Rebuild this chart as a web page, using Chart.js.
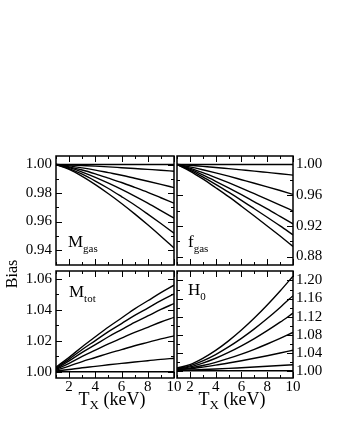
<!DOCTYPE html>
<html><head><meta charset="utf-8">
<script src="https://cdn.jsdelivr.net/npm/chart.js@4.4.1/dist/chart.umd.min.js"></script>
<style>
html,body{margin:0;padding:0;background:#fff;width:349px;height:436px;overflow:hidden;position:relative;}
canvas{position:absolute;}
</style></head><body>
<canvas id="tl" width="180" height="130" style="left:0;top:140px"></canvas>
<canvas id="tr" width="150" height="130" style="left:176px;top:140px"></canvas>
<canvas id="bl" width="184" height="160" style="left:0;top:256px"></canvas>
<canvas id="br" width="150" height="160" style="left:176px;top:256px"></canvas>
<script>
// ---- data ----
const temperatures = [1, 2, 3, 4, 5, 6, 7, 8, 9, 10];
const xTickValues = [2, 4, 6, 8, 10];
const xMinorTicks = [1, 3, 5, 7, 9];

const mgasCurves = [
  [1, 1, 1, 1, 1, 1, 1, 1, 1, 1],
  [1, .9997, .9993, .9989, .9984, .9978, .9972, .9966, .9960, .9953],
  [1, .9991, .9977, .9961, .9943, .9925, .9904, .9883, .9861, .9838],
  [1, .9984, .9962, .9935, .9905, .9874, .9840, .9805, .9767, .9729],
  [1, .9978, .9947, .9910, .9869, .9825, .9778, .9729, .9677, .9624],
  [1, .9972, .9932, .9884, .9832, .9775, .9716, .9652, .9586, .9518],
  [1, .9966, .9917, .9859, .9795, .9727, .9654, .9577, .9497, .9414]
];
const fgasCurves = [
  [1, 1, 1, 1, 1, 1, 1, 1, 1, 1],
  [1, .9989, .9975, .9961, .9945, .9929, .9913, .9896, .9879, .9861],
  [1, .9969, .9931, .9890, .9847, .9801, .9755, .9708, .9660, .9610],
  [1, .9952, .9893, .9829, .9762, .9692, .9619, .9546, .9471, .9394],
  [1, .9938, .9863, .9781, .9695, .9606, .9513, .9420, .9323, .9225],
  [1, .9927, .9838, .9740, .9639, .9533, .9423, .9312, .9199, .9082],
  [1, .9914, .9811, .9697, .9580, .9456, .9329, .9199, .9067, .8931]
];
const mtotCurves = [
  [1, 1, 1, 1, 1, 1, 1, 1, 1, 1],
  [1.0005, 1.0015, 1.0026, 1.0035, 1.0045, 1.0054, 1.0063, 1.0071, 1.0080, 1.0087],
  [1.0010, 1.0037, 1.0066, 1.0092, 1.0119, 1.0143, 1.0168, 1.0190, 1.0212, 1.0232],
  [1.0015, 1.0055, 1.0099, 1.0139, 1.0180, 1.0217, 1.0254, 1.0287, 1.0321, 1.0351],
  [1.0020, 1.0070, 1.0125, 1.0175, 1.0226, 1.0272, 1.0318, 1.0360, 1.0402, 1.0440],
  [1.0025, 1.0082, 1.0144, 1.0201, 1.0259, 1.0311, 1.0364, 1.0411, 1.0459, 1.0502],
  [1.0030, 1.0093, 1.0162, 1.0226, 1.0289, 1.0347, 1.0406, 1.0458, 1.0511, 1.0559]
];
const h0Curves = [
  [1, 1, 1, 1, 1, 1, 1, 1, 1, 1],
  [1.001, 1.0017, 1.0028, 1.0040, 1.0053, 1.0068, 1.0083, 1.0099, 1.0116, 1.0134],
  [1.002, 1.0045, 1.0082, 1.0124, 1.0172, 1.0223, 1.0277, 1.0334, 1.0393, 1.0455],
  [1.003, 1.0060, 1.0116, 1.0187, 1.0273, 1.0369, 1.0476, 1.0593, 1.0717, 1.0850],
  [1.004, 1.0086, 1.0170, 1.0277, 1.0406, 1.0552, 1.0712, 1.0888, 1.1076, 1.1276],
  [1.005, 1.0110, 1.0219, 1.0360, 1.0528, 1.0718, 1.0928, 1.1157, 1.1403, 1.1664],
  [1.006, 1.0135, 1.0274, 1.0451, 1.0663, 1.0903, 1.1168, 1.1457, 1.1767, 1.2097]
];

const mgasTicks = [0.94, 0.96, 0.98, 1.00];
const mgasMinor = [0.95, 0.97, 0.99];
const fgasTicks = [0.88, 0.92, 0.96, 1.00];
const fgasMinor = [0.90, 0.94, 0.98];
const mtotTicks = [1.00, 1.02, 1.04, 1.06];
const mtotMinor = [1.01, 1.03, 1.05];
const h0Ticks = [1.00, 1.04, 1.08, 1.12, 1.16, 1.20];
const h0Minor = [1.02, 1.06, 1.10, 1.14, 1.18];

const FONT = '"Liberation Serif", "Times New Roman", serif';

const framePlugin = {
  id: 'frame',
  afterDatasetsDraw(chart, args, o) {
    const {ctx, chartArea: a} = chart;
    const x = chart.scales.x, y = chart.scales.y;
    ctx.save();
    ctx.strokeStyle = '#000';
    ctx.lineWidth = 1;
    ctx.beginPath();
    const tx = (v, len) => {
      const p = Math.round(x.getPixelForValue(v)) + 0.5;
      ctx.moveTo(p, a.bottom); ctx.lineTo(p, a.bottom - len);
      ctx.moveTo(p, a.top); ctx.lineTo(p, a.top + len);
    };
    const ty = (v, len) => {
      const p = Math.round(y.getPixelForValue(v)) + 0.5;
      ctx.moveTo(a.left, p); ctx.lineTo(a.left + len, p);
      ctx.moveTo(a.right, p); ctx.lineTo(a.right - len, p);
    };
    xTickValues.forEach(v => tx(v, 6));
    xMinorTicks.forEach(v => tx(v, 3));
    o.yMajor.forEach(v => ty(v, 6));
    o.yMinor.forEach(v => ty(v, 3));
    ctx.stroke();
    ctx.lineWidth = 1.5;
    ctx.strokeRect(a.left, a.top, a.right - a.left, a.bottom - a.top);
    // panel label
    ctx.fillStyle = '#000';
    ctx.textBaseline = 'alphabetic';
    ctx.textAlign = 'left';
    ctx.font = '17px ' + FONT;
    const lx = a.left + o.dx;
    const ly = o.fromBottom ? a.bottom - o.dy : a.top + o.dy;
    ctx.fillText(o.main, lx, ly);
    const mw = ctx.measureText(o.main).width + o.gap;
    ctx.font = '11px ' + FONT;
    ctx.fillText(o.sub, lx + mw, ly + 5);
    // axis title
    if (o.title) {
      ctx.font = '18px ' + FONT;
      const wT = ctx.measureText('T').width;
      const wR = ctx.measureText(' (keV)').width;
      ctx.font = '13px ' + FONT;
      const wX = ctx.measureText('X').width;
      const total = wT + wX + wR;
      const cx = (a.left + a.right) / 2 - 3;
      let sx = cx - total / 2;
      const by = a.bottom + 27;
      ctx.font = '18px ' + FONT;
      ctx.fillText('T', sx, by);
      ctx.font = '13px ' + FONT;
      ctx.fillText('X', sx + wT, by + 4);
      ctx.font = '18px ' + FONT;
      ctx.fillText(' (keV)', sx + wT + wX, by);
    }
    // shared y title
    if (o.yTitle) {
      ctx.save();
      ctx.translate(13, a.top + 3);
      ctx.rotate(-Math.PI / 2);
      ctx.font = '16px ' + FONT;
      ctx.textAlign = 'center';
      ctx.textBaseline = 'middle';
      ctx.fillText(o.yTitle, 0, 0);
      ctx.restore();
    }
    ctx.restore();
  }
};

function makePanel(id, curves, cfg) {
  const datasets = curves.map(c => ({
    data: c.map((v, i) => ({x: temperatures[i], y: v})),
    borderColor: '#000',
    borderWidth: 1.4,
    pointRadius: 0,
    fill: false,
    cubicInterpolationMode: 'monotone'
  }));
  new Chart(document.getElementById(id), {
    type: 'line',
    data: {datasets},
    plugins: [framePlugin],
    options: {
      responsive: false,
      animation: false,
      devicePixelRatio: 1,
      layout: {padding: cfg.padding},
      plugins: {
        legend: {display: false},
        tooltip: {enabled: false},
        frame: cfg.frame
      },
      scales: {
        x: {
          type: 'linear', min: 1, max: 10, position: 'bottom',
          grid: {display: false, drawTicks: false},
          border: {display: false},
          ticks: {display: cfg.showX, autoSkip: false, color: '#000', padding: 0,
                  font: {family: FONT, size: 15}, callback: v => String(v)},
          afterBuildTicks: s => { s.ticks = xTickValues.map(v => ({value: v})); },
          afterFit: s => { s.height = cfg.showX ? 38 : 0; s.paddingLeft = 0; s.paddingRight = 0; }
        },
        y: {
          type: 'linear', min: cfg.yMin, max: cfg.yMax, position: cfg.yPos,
          grid: {display: false, drawTicks: false},
          border: {display: false},
          ticks: {autoSkip: false, color: '#000', padding: cfg.yPad,
                  font: {family: FONT, size: 15}, callback: v => v.toFixed(2)},
          afterBuildTicks: s => { s.ticks = cfg.yTicks.map(v => ({value: v})); },
          afterFit: s => { s.width = cfg.yWidth; s.paddingTop = 0; s.paddingBottom = 0; }
        }
      }
    }
  });
}

makePanel('tl', mgasCurves, {
  yMin: 0.9295, yMax: 1.006, yTicks: mgasTicks, yPos: 'left', yWidth: 56, yPad: 4, showX: false,
  padding: {left: 0, right: 6, top: 16, bottom: 5},
  frame: {yMajor: mgasTicks, yMinor: mgasMinor, main: 'M', sub: 'gas', dx: 12, dy: 18, fromBottom: true, gap: 0}
});
makePanel('tr', fgasCurves, {
  yMin: 0.869, yMax: 1.011, yTicks: fgasTicks, yPos: 'right', yWidth: 33, yPad: 3, showX: false,
  padding: {left: 1, right: 0, top: 16, bottom: 5},
  frame: {yMajor: fgasTicks, yMinor: fgasMinor, main: 'f', sub: 'gas', dx: 11, dy: 18, fromBottom: true, gap: 0}
});
makePanel('bl', mtotCurves, {
  yMin: 0.996, yMax: 1.065, yTicks: mtotTicks, yPos: 'left', yWidth: 56, yPad: 4, showX: true,
  padding: {left: 0, right: 10, top: 15, bottom: 0},
  frame: {yMajor: mtotTicks, yMinor: mtotMinor, main: 'M', sub: 'tot', dx: 13, dy: 26, fromBottom: false, gap: 0, title: true, yTitle: 'Bias'}
});
makePanel('br', h0Curves, {
  yMin: 0.984, yMax: 1.221, yTicks: h0Ticks, yPos: 'right', yWidth: 33, yPad: 3, showX: true,
  padding: {left: 1, right: 0, top: 15, bottom: 0},
  frame: {yMajor: h0Ticks, yMinor: h0Minor, main: 'H', sub: '0', dx: 11, dy: 24, fromBottom: false, gap: 0, title: true}
});
</script>
</body></html>
